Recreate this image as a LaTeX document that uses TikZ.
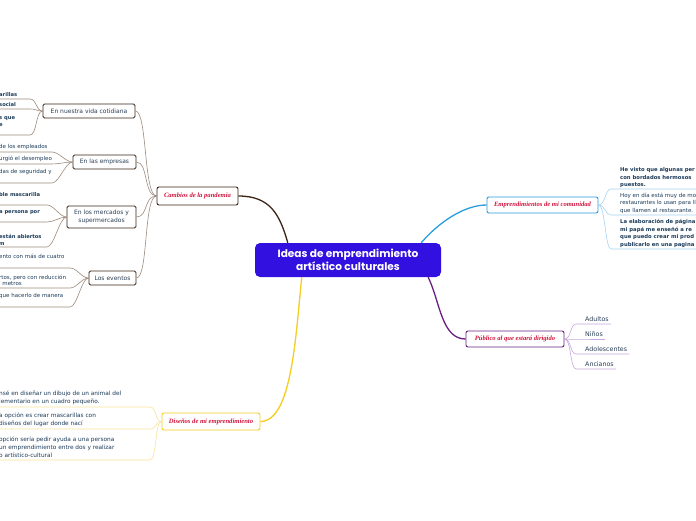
\documentclass[tikz,border=0pt]{standalone}
\usepackage{fontspec}
\setmainfont{DejaVu Sans}
\newfontfamily\popfont{Poppins}
\newfontfamily\hndfont{Liberation Serif}
\usetikzlibrary{calc}
\definecolor{cblue}{HTML}{3210E0}
\definecolor{sred}{HTML}{D0143C}
\definecolor{brownmain}{HTML}{3B2416}
\definecolor{brownthin}{HTML}{9C8B7E}
\definecolor{bluemain}{HTML}{2A9EE0}
\definecolor{bluethin}{HTML}{A6D3F2}
\definecolor{purplemain}{HTML}{6A2080}
\definecolor{purplethin}{HTML}{C9A6DC}
\definecolor{yellowmain}{HTML}{F5CC20}
\definecolor{yellowthin}{HTML}{F7E39A}
\definecolor{leaftext}{HTML}{1B3B5A}
\definecolor{subtext}{HTML}{2A3F55}
\tikzset{
  central/.style={fill=cblue, rounded corners=5pt, minimum width=186pt, minimum height=34pt,
    text=white, font=\popfont\bfseries\fontsize{10.6}{12.8}\selectfont, align=center, inner sep=0pt},
  branch/.style={draw, fill=white, rounded corners=2pt, line width=0.9pt, inner sep=0pt,
    font=\hndfont\itshape\bfseries\fontsize{6.6}{8}\selectfont, text=sred},
  subnode/.style={draw=brownmain, fill=white, rounded corners=1.5pt, line width=0.8pt, inner sep=0pt,
    font=\fontsize{6}{7.5}\selectfont, text=subtext, align=center, minimum height=14pt},
  leafb/.style={inner xsep=0pt, inner ysep=0pt, align=left, text=leaftext},
  mainline/.style={line width=1.3pt},
  thinline/.style={line width=0.6pt},
}
\newcommand{\lleaf}[7]{% name, parent, y_u, x_u, line colour, node style, text
  \coordinate (#1e) at (#4,#3);
  \coordinate (#1s) at (-3,#3);
  \node[leafb, #6, anchor=south west] (#1) at (-1,#3-1.8) {#7};
  \draw[thinline, #5] (#2.west) .. controls +(-7,0) and +(7,0) .. (#1e) -- (#1s);
}
\begin{document}
\begin{tikzpicture}[x=1pt,y=-1pt]
\clip (0,0) rectangle (696,520);
\fill[white] (0,0) rectangle (696,520);

% central
\node[central] (c) at (348,260) {Ideas de emprendimiento\\artístico culturales};

% branches
\node[branch, draw=brownmain, minimum width=81pt, minimum height=18pt] (cam) at (197.5,196) {Cambios de la pandemia};
\node[branch, draw=bluemain, minimum width=111pt, minimum height=16pt] (emp) at (542.5,205) {Emprendimientos de mi comunidad};
\node[branch, draw=purplemain, minimum width=98pt, minimum height=16pt] (pub) at (515,339) {Público al que estará dirigido};
\node[branch, draw=yellowmain, minimum width=98pt, minimum height=17pt] (dis) at (211,421.5) {Diseños de mi emprendimiento};

% main connectors
\draw[mainline, brownmain] ($(c.north west)+(33,0)$) .. controls +(-8,-28) and +(32,0) .. (cam.east);
\draw[mainline, bluemain] ($(c.north east)+(-20,0)$) .. controls +(18,-21) and +(-22,0) .. (emp.west);
\draw[mainline, purplemain] ($(c.south east)+(-13,0)$) .. controls +(12,25) and +(-24,0) .. (pub.west);
\draw[mainline, yellowmain] ($(c.south west)+(47,0)$) .. controls +(-6,55) and +(32,0) .. (dis.east);

% sub nodes of cambios
\node[subnode, minimum width=92pt] (vida) at (89,111) {En nuestra vida cotidiana};
\node[subnode, minimum width=63pt] (empr) at (104.5,162) {En las empresas};
\node[subnode, minimum width=69pt, minimum height=22pt] (merc) at (101.5,217) {En los mercados y\\supermercados};
\node[subnode, minimum width=47pt] (even) at (112.5,278) {Los eventos};
\foreach \s in {vida,empr,merc,even}
  \draw[thinline, brownthin] (cam.west) .. controls +(-13,0) and +(12,0) .. (\s.east);

% leaves: vida
\lleaf{la}{vida}{99}{30}{brownthin}{font=\bfseries\fontsize{5.2}{6.5}\selectfont}{arillas}
\lleaf{lb}{vida}{109}{30}{brownthin}{font=\bfseries\fontsize{5.2}{6.5}\selectfont}{social}
\lleaf{lc}{vida}{135}{30}{brownthin}{font=\bfseries\fontsize{5.2}{7}\selectfont}{s que\\e\\\mbox{}}
% leaves: empresas
\lleaf{ld}{empr}{152}{52}{brownthin}{font=\fontsize{5.5}{6.5}\selectfont}{de los empleados}
\lleaf{le}{empr}{164}{52}{brownthin}{font=\fontsize{5.5}{6.5}\selectfont}{urgió el desempleo}
\lleaf{lf}{empr}{183}{52}{brownthin}{font=\fontsize{5.5}{8}\selectfont}{das de seguridad y\\\mbox{}}
% leaves: mercados
\lleaf{lg}{merc}{205}{47}{brownthin}{font=\bfseries\fontsize{5.2}{6.5}\selectfont}{ble mascarilla\\\mbox{}}
\lleaf{lh}{merc}{222}{47}{brownthin}{font=\bfseries\fontsize{5.2}{6.5}\selectfont}{a persona por\\\mbox{}}
\lleaf{li}{merc}{247}{47}{brownthin}{font=\bfseries\fontsize{5.2}{6.5}\selectfont}{están abiertos\\m}
% leaves: eventos
\lleaf{lj}{even}{268}{70}{brownthin}{font=\fontsize{5.5}{8}\selectfont}{ento con más de cuatro\\\mbox{}}
\lleaf{lk}{even}{288}{70}{brownthin}{font=\fontsize{5.5}{6.8}\selectfont}{rtos, pero con reducción\\l metros}
\lleaf{ll}{even}{307}{70}{brownthin}{font=\fontsize{5.5}{8}\selectfont}{que hacerlo de manera\\\mbox{}}

% leaves: diseños
\lleaf{ya}{dis}{407}{150}{yellowthin}{font=\fontsize{5.8}{8}\selectfont}{nsé en diseñar un dibujo de un animal del\\lementario en un cuadro pequeño.}
\lleaf{yb}{dis}{429}{150}{yellowthin}{font=\fontsize{5.8}{8}\selectfont}{a opción es crear mascarillas con\\ diseños del lugar donde nací}
\lleaf{yc}{dis}{460}{150}{yellowthin}{font=\fontsize{5.8}{8}\selectfont}{opción sería pedir ayuda a una persona\\ un emprendimiento entre dos y realizar\\o artístico-cultural}

% leaves: emprendimientos (right)
\tikzset{rleaf/.style={inner xsep=0pt, inner ysep=0pt, align=left, text=leaftext, anchor=south west}}
\foreach \n/\y in {ra/189, rb/215, rc/249} {
  \coordinate (\n s) at (611,\y);
  \coordinate (\n e) at (700,\y);
  \draw[thinline, bluethin] (emp.east) .. controls +(7,0) and +(-6,0) .. (\n s) -- (\n e);
}
\node[rleaf, font=\bfseries\fontsize{5.3}{7.2}\selectfont] (ra) at (620,187.5) {He visto que algunas per\\con bordados hermosos\\puestos.};
\node[rleaf, font=\fontsize{5.5}{7.2}\selectfont] (rb) at (620,213.5) {Hoy en día está muy de mo\\restaurantes lo usan para ll\\que llamen al restaurante.};
\node[rleaf, font=\bfseries\fontsize{5.3}{7.5}\selectfont] (rc) at (620,247.5) {La elaboración de página\\mi papá me enseñó a re\\que puedo crear mi prod\\publicarlo en una pagina};

% leaves: público (purple)
\tikzset{pleaf/.style={inner xsep=0pt, inner ysep=1.8pt, anchor=south west, text=subtext, font=\fontsize{6.3}{7.5}\selectfont}}
\node[pleaf] (pa) at (576,324) {\hspace*{9pt}Adultos\hspace*{2pt}};
\node[pleaf] (pb) at (576,339) {\hspace*{9pt}Niños\hspace*{2pt}};
\node[pleaf] (pc) at (576,354) {\hspace*{9pt}Adolescentes\hspace*{2pt}};
\node[pleaf] (pd) at (576,369) {\hspace*{9pt}Ancianos\hspace*{2pt}};
\foreach \n in {pa,pb,pc,pd}
  \draw[thinline, purplethin] (pub.east) .. controls +(7,0) and +(-6,0) .. (\n.south west) -- (\n.south east);

\end{tikzpicture}
\end{document}
